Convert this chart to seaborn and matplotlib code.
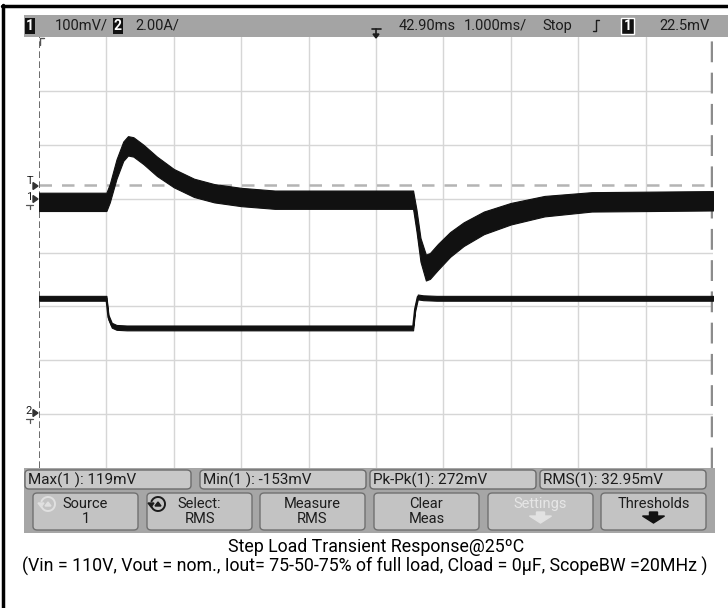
import matplotlib.pyplot as plt
import seaborn as sns
import pandas as pd
import numpy as np
from matplotlib.patches import Rectangle, FancyBboxPatch, Polygon, Arc
from matplotlib.lines import Line2D

# Channel 1: output voltage deviation (mV), 100 mV/div, ground marker at +1 div
t1 = [0, 1.0, 1.05, 1.15, 1.25, 1.32, 1.40, 1.55, 1.75, 2.0, 2.3, 2.6, 3.0, 3.5,
      5.55, 5.60, 5.66, 5.74, 5.80, 5.92, 6.1, 6.3, 6.6, 7.0, 7.5, 8.2, 10]
v1 = [-6, -6, 10, 55, 88, 98, 96, 82, 60, 38, 20, 10, 3, -2,
      -2, -40, -95, -128, -125, -108, -85, -66, -45, -28, -14, -6, -4]
w1 = [17, 17, 17, 18, 18, 18, 18, 18, 18, 17, 17, 17, 17, 17,
      17, 20, 22, 24, 24, 24, 23, 22, 21, 20, 19, 18, 18]

# Channel 2: load current (A), 2.00 A/div, ground marker at -3 div
t2 = [0, 1.0, 1.03, 1.08, 1.15, 1.3, 5.55, 5.58, 5.62, 5.7, 5.9, 10]
i2 = [4.3, 4.3, 3.6, 3.3, 3.22, 3.2, 3.2, 3.9, 4.35, 4.32, 4.3, 4.3]

header_left = [("100mV/", 55), ("2.00A/", 135)]
header_right = [("42.90ms", 399), ("1.000ms/", 464), ("Stop", 542), ("22.5mV", 659)]
meas_labels = ["Max(1 ): 119mV", "Min(1 ): -153mV", "Pk-Pk(1): 272mV", "RMS(1): 32.95mV"]
button_labels = [("Source", "1"), ("Select:", "RMS"), ("Measure", "RMS"),
                 ("Clear", "Meas"), ("Settings", ""), ("Thresholds", "")]
caption1 = "Step Load Transient Response@25ºC"
caption2 = ("(Vin = 110V, Vout = nom., Iout= 75-50-75% of full load, "
            "Cload = 0µF, ScopeBW =20MHz )")

sns.set_style("white")
plt.rcParams['font.family'] = ['Roboto', 'DejaVu Sans']

W, H = 728, 608
fig = plt.figure(figsize=(W / 100, H / 100), dpi=100)
fig.patch.set_facecolor("white")


def F(x, y):
    return x / W, 1 - y / H


def frect(x0, y0, x1, y1, **kw):
    fig.add_artist(Rectangle(F(x0, y1), (x1 - x0) / W, (y1 - y0) / H,
                             transform=fig.transFigure, **kw))


def fbox(x0, y0, x1, y1, **kw):
    fig.add_artist(FancyBboxPatch(F(x0, y1), (x1 - x0) / W, (y1 - y0) / H,
                                  boxstyle="round,pad=0,rounding_size=0.006",
                                  transform=fig.transFigure, **kw))


def ftext(x, y, s, **kw):
    kw.setdefault("color", "#1c1c1c")
    kw.setdefault("fontsize", 10)
    kw.setdefault("va", "center")
    fig.text(*F(x, y), s, **kw)


def fline(xs, ys, **kw):
    fig.add_artist(Line2D([x / W for x in xs], [1 - y / H for y in ys],
                          transform=fig.transFigure, **kw))


# scope screen
x0p, x1p, y0p, y1p = 39, 713, 37, 468
ax = fig.add_axes([x0p / W, 1 - y1p / H, (x1p - x0p) / W, (y1p - y0p) / H])
ax.set_xlim(0, 10)
ax.set_ylim(-4, 4)
ax.set_facecolor("white")
for k in range(1, 10):
    ax.axvline(k, color="#d6d6d6", lw=1, zorder=0)
for k in range(-3, 4):
    ax.axhline(k, color="#d6d6d6", lw=1, zorder=0)
for s in ax.spines.values():
    s.set_visible(False)
ax.set_xticks([])
ax.set_yticks([])
ax.axvline(0.004, color="#505050", lw=1.2, ls=(0, (4, 2)))
ax.axvline(9.985, color="#8c8c8c", lw=2.5, ls=(0, (6, 3)))
# trigger level
ax.axhline(1.26, color="#b4b4b4", lw=1.8, ls=(0, (5, 4)), zorder=1)

df1 = pd.DataFrame({"t": t1, "v": v1, "w": w1})
df1["div"] = 1.0 + df1["v"] / 100
ax.fill_between(df1["t"], 1.0 + (df1["v"] - df1["w"]) / 100,
                1.0 + (df1["v"] + df1["w"]) / 100, color="#111111", lw=0.8, zorder=3)
sns.lineplot(data=df1, x="t", y="div", color="#111111", lw=1.5, ax=ax, zorder=4)

df2 = pd.DataFrame({"t": t2, "i": i2})
df2["div"] = -3 + df2["i"] / 2
ax.fill_between(df2["t"], df2["div"] - 0.045, df2["div"] + 0.045,
                color="#111111", lw=0.8, zorder=3)
sns.lineplot(data=df2, x="t", y="div", color="#111111", lw=1.5, ax=ax, zorder=4)
ax.set_xlabel("")
ax.set_ylabel("")

# outer frame
fline([3, 3], [5, 608], color="black", lw=2.5)
fline([2, 728], [6, 6], color="black", lw=2.5)

# header bar
frect(24, 15, 728, 37, color="#a4a4a4", lw=0)
for x, lab in [(25, "1"), (113, "2")]:
    frect(x, 18, x + 10, 34, color="#111111", lw=0)
    ftext(x + 5, 26, lab, color="white", ha="center", fontsize=10, weight="bold")
frect(621, 18, 634, 34, facecolor="#111111", edgecolor="white", lw=1)
ftext(627.5, 26, "1", color="white", ha="center", fontsize=10, weight="bold")
for lab, x in header_left + header_right:
    ftext(x, 26, lab, ha="left", fontsize=10.5)
# time reference and trigger edge symbols
fline([372, 381], [29, 29], color="#1c1c1c", lw=1.2)
fline([376, 376], [29, 37], color="#1c1c1c", lw=1.2)
fig.add_artist(Polygon([F(373, 34), F(379, 34), F(376, 38)], closed=True,
                       transform=fig.transFigure, color="#1c1c1c"))
fline([593, 596, 596, 599], [31, 31, 20, 20], color="#1c1c1c", lw=1)

# left channel markers
ftext(30, 181, "T", ha="center", fontsize=8)
ftext(29, 197, "1", ha="center", fontsize=8)
ftext(29, 411, "2", ha="center", fontsize=8)
for y in (186, 199, 413):
    fig.add_artist(Polygon([F(33, y - 3.5), F(33, y + 3.5), F(38, y)], closed=True,
                           transform=fig.transFigure, color="#333333"))
for y in (205, 419):
    fline([26, 33], [y, y], color="#555555", lw=0.9)
    fline([29.5, 29.5], [y, y + 4], color="#555555", lw=0.9)
fline([40, 40, 44], [45, 38, 38], color="#555555", lw=1)

# bottom softkey panel
frect(24, 468, 715, 533, color="#a6a6a6", lw=0)
mx = [25, 200, 370, 540]
for x, lab in zip(mx, meas_labels):
    fbox(x, 470, x + 166, 489, facecolor="#c8c8c8", edgecolor="#6c6c6c", lw=1)
    ftext(x + 3, 480, lab, ha="left", fontsize=11)

bx = [33, 147, 260, 374, 488, 601]
for k, (x, (l1, l2)) in enumerate(zip(bx, button_labels)):
    fbox(x, 493, x + 105, 530, facecolor="#c3c3c3", edgecolor="#707070", lw=1)
    cx = x + 52.5
    col = "#e6e6e6" if k == 4 else "#1c1c1c"
    if k < 2:
        ic = "#e0e0e0" if k == 0 else "#1c1c1c"
        icx = x + 15 if k == 0 else x + 11
        fig.add_artist(Arc(F(icx, 504), 14 / W, 14 / H, theta1=200, theta2=160,
                           transform=fig.transFigure, color=ic, lw=1.4))
        fig.add_artist(Polygon([F(icx - 3, 506), F(icx + 3, 506), F(icx, 502)],
                               closed=True, transform=fig.transFigure, color=ic))
        fig.add_artist(Polygon([F(icx - 10, 503), F(icx - 4, 503), F(icx - 7, 507)],
                               closed=True, transform=fig.transFigure, color=ic))
    ftext(cx, 504, l1, ha="center", fontsize=10.5, color=col)
    if l2:
        ftext(cx, 519, l2, ha="center", fontsize=10.5, color=col)
    if k >= 4:
        ac = "#e2e2e2" if k == 4 else "#111111"
        fig.add_artist(Polygon([F(cx - 11, 516), F(cx - 4, 516), F(cx - 4, 512),
                                F(cx + 4, 512), F(cx + 4, 516), F(cx + 11, 516),
                                F(cx, 523)], closed=True,
                               transform=fig.transFigure, color=ac))

# caption
ftext(376, 547, caption1, ha="center", fontsize=12.8, color="black")
ftext(365, 566, caption2, ha="center", fontsize=12.8, color="black")

fig.savefig("out.png", dpi=100)
